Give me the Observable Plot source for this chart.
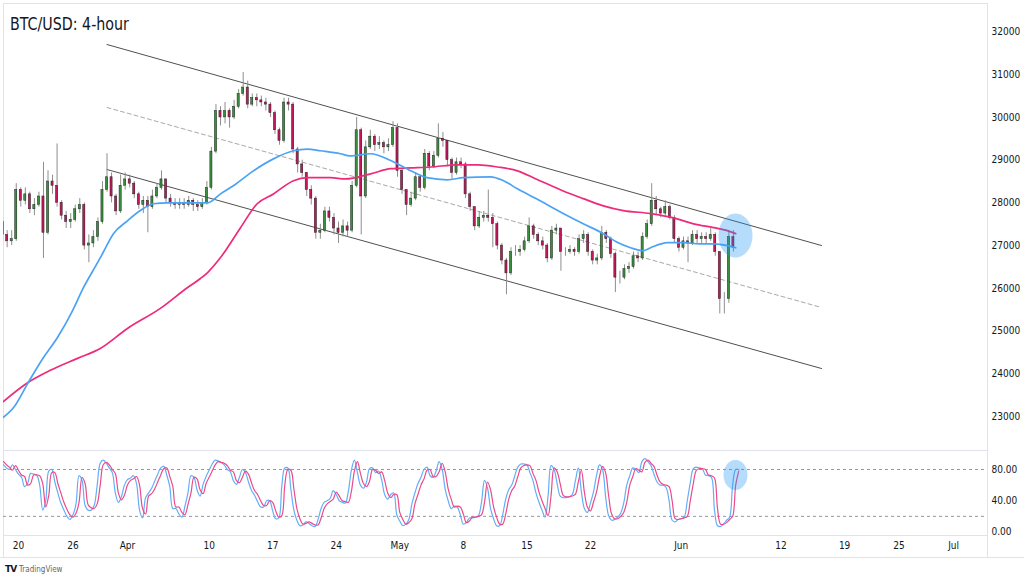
<!DOCTYPE html>
<html>
<head>
<meta charset="utf-8">
<script src="https://cdn.jsdelivr.net/npm/d3@7"></script>
<script src="https://cdn.jsdelivr.net/npm/@observablehq/plot@0.6"></script>
<style>
html,body{margin:0;padding:0;background:#fff;}
#wrap{position:relative;width:1024px;height:576px;overflow:hidden;background:#fff;
  font-family:"Liberation Sans Narrow","DejaVu Sans Condensed","Liberation Sans",sans-serif;}
#main{position:absolute;left:0;top:0;}
#osc{position:absolute;left:0;top:450px;}
#title{position:absolute;left:10px;top:13px;font-size:18px;color:#131722;white-space:nowrap;transform:scaleX(0.88);transform-origin:0 0;}
#logo{position:absolute;left:5px;top:564px;font-size:8px;color:#666;white-space:nowrap;}
#logo b{color:#131722;font-size:9px;font-family:"DejaVu Sans",sans-serif;font-weight:900;letter-spacing:-1px;margin-right:3px;}
.hline{position:absolute;left:0;width:1024px;height:1px;background:#e0e3eb;}
.vline{position:absolute;width:1px;background:#e0e3eb;}
</style>
</head>
<body>
<div id="wrap">
  <div id="main"></div>
  <div id="osc"></div>
  <div class="vline" style="left:3px;top:535px;height:22px"></div>
  <div class="vline" style="left:987px;top:535px;height:22px"></div>
  <div class="hline" style="top:557px"></div>
  <div id="title">BTC/USD: 4-hour</div>
  <div id="logo"><b>TV</b>TradingView</div>
</div>
<script>
// ---------- DATA ----------
const candleStart = "2023-03-18T00:00:00Z";
const candleHours = 12;
const firstOpen = 27550;
const closes = [
27250,27100,27150,28300,28050,28200,27850,27950,28150,27300,
28500,28400,28000,27700,27550,27600,27850,27950,27000,27050,
27200,27550,28300,28600,28150,27800,28400,28550,28450,28200,
27950,28050,27900,28150,28350,28550,28100,28000,27950,28000,
27950,28050,27950,27900,28000,28350,29200,30150,30000,30150,
30000,30250,30550,30700,30300,30450,30400,30350,30300,30100,
29700,29450,30350,30300,29250,28900,28700,28300,28100,27300,
27350,27800,27650,27400,27300,27450,27350,28400,29700,28150,
29300,29550,29350,29400,29300,29350,29750,28750,28300,27950,
28100,28600,28350,29150,28850,29100,29500,29450,29000,28700,
28950,28900,28200,27900,27450,27650,27700,27650,27500,27000,
26650,26350,26850,26850,26900,27100,27450,27250,27100,27000,
26700,27350,27400,26850,26850,26900,26850,27150,27250,26850,
26650,26700,27300,27150,26800,26250,26250,26450,26500,26750,
26700,27200,27500,28050,27850,27750,27900,27650,27150,26950,
27100,27050,27250,27150,27200,27150,27250,26850,25750,25750,
27200,26950];
const highs = [
27650,27350,27350,28450,28350,28350,28250,28100,28250,28950,
28750,28650,29380,28050,27800,27750,27950,28100,28000,27250,
27350,27650,28500,29150,28700,28200,28650,28700,28650,28500,
28250,28150,28150,28300,28450,28750,28550,28200,28100,28100,
28100,28150,28100,28050,28100,28500,29300,30300,30250,30350,
30200,30400,30650,31050,30850,30550,30550,30500,30450,30350,
30150,29750,30450,30450,30350,29300,29000,28700,28400,28150,
27500,27900,27900,27750,27550,27600,27550,28500,30000,29750,
29450,29700,29600,29550,29450,29500,29900,29850,28800,28300,
28250,28700,28650,29250,29200,29200,29850,29650,29450,29050,
29050,29050,28950,28250,27900,27800,27800,28300,27750,27550,
27050,26700,26950,27000,27000,27200,27650,27500,27300,27200,
27050,27450,27500,27400,26950,27000,26950,27250,27350,27300,
26900,26800,27450,27350,27200,26850,26400,26550,26600,26850,
26850,27300,27600,28450,28150,27900,28050,27950,27700,27200,
27200,27200,27350,27350,27300,27300,27400,27300,26850,25900,
27350,27350];
const lows = [
27100,26950,27000,27100,27900,27950,27750,27700,27900,26700,
27250,28200,27900,27600,27400,27400,27550,27750,26900,26600,
26950,27100,27500,28250,28000,27700,27750,28300,28350,28100,
27850,27750,27300,27850,28100,28300,28000,27900,27850,27850,
27850,27900,27800,27800,27850,27950,28300,29150,29800,29850,
29750,29950,30200,30500,30200,30250,30250,30250,30150,30000,
29600,29350,29400,30150,29150,28700,28600,28150,27950,27150,
27150,27300,27550,27250,27050,27200,27200,27300,28350,27250,
28100,29250,29200,29250,29150,29200,29300,28600,28200,27700,
27900,28050,28250,28300,28750,28800,29050,29300,28850,28550,
28650,28800,28100,27800,27350,27400,27550,27550,26950,26900,
26550,25850,26300,26750,26750,26850,27050,27150,27000,26900,
26600,26650,27250,26400,26750,26800,26750,26800,27050,26750,
26550,26550,26650,27050,26700,25900,26100,26200,26350,26450,
26600,26650,27150,27450,27700,27650,27700,27600,27050,26850,
26900,26600,27000,27050,27050,27050,27100,26750,25400,25400,
25650,26850];

const fastDates = ["2023-03-18T08:00Z","2023-03-19T11:00Z","2023-03-21T02:00Z","2023-03-22T18:00Z","2023-03-24T07:00Z","2023-03-25T23:00Z","2023-03-27T04:00Z","2023-03-28T17:00Z","2023-03-29T06:00Z","2023-03-30T11:00Z","2023-04-01T00:00Z","2023-04-02T10:00Z","2023-04-03T21:00Z","2023-04-05T10:00Z","2023-04-07T15:00Z","2023-04-09T20:00Z","2023-04-11T06:00Z","2023-04-12T16:00Z","2023-04-14T21:00Z","2023-04-17T02:00Z","2023-04-19T07:00Z","2023-04-20T20:00Z","2023-04-22T06:00Z","2023-04-24T11:00Z","2023-04-25T12:00Z","2023-04-27T19:00Z","2023-04-30T00:00Z","2023-05-02T05:00Z","2023-05-04T00:00Z","2023-05-06T06:00Z","2023-05-08T00:00Z","2023-05-11T00:00Z","2023-05-12T10:00Z","2023-05-13T23:00Z","2023-05-16T00:00Z","2023-05-19T00:00Z","2023-05-21T05:00Z","2023-05-23T10:00Z","2023-05-25T00:00Z","2023-05-26T10:00Z","2023-05-27T20:00Z","2023-05-28T15:00Z","2023-05-30T12:00Z","2023-06-01T06:00Z","2023-06-03T00:00Z","2023-06-04T14:00Z","2023-06-06T02:00Z","2023-06-07T00:00Z"];
const fastValues = [22980,23210,23800,24380,24850,25480,26020,26600,26810,27280,27580,27820,27980,28000,28000,28000,28210,28400,28750,29030,29220,29260,29220,29150,29100,29150,28990,28750,28590,28540,28590,28610,28520,28330,28100,27750,27510,27280,27070,26950,26880,26950,27070,27070,27040,27040,27000,26950];

const slowDates = ["2023-03-18T08:00Z","2023-03-21T02:00Z","2023-03-23T12:00Z","2023-03-26T12:00Z","2023-03-29T00:00Z","2023-04-01T00:00Z","2023-04-04T15:00Z","2023-04-07T15:00Z","2023-04-09T01:00Z","2023-04-09T20:00Z","2023-04-11T06:00Z","2023-04-13T11:00Z","2023-04-15T07:00Z","2023-04-17T02:00Z","2023-04-19T07:00Z","2023-04-20T20:00Z","2023-04-23T09:00Z","2023-04-25T00:00Z","2023-04-27T19:00Z","2023-04-30T00:00Z","2023-05-02T05:00Z","2023-05-04T10:00Z","2023-05-07T09:00Z","2023-05-09T14:00Z","2023-05-11T19:00Z","2023-05-13T23:00Z","2023-05-16T00:00Z","2023-05-19T00:00Z","2023-05-21T05:00Z","2023-05-23T10:00Z","2023-05-25T15:00Z","2023-05-28T15:00Z","2023-05-31T04:00Z","2023-06-02T09:00Z","2023-06-04T14:00Z","2023-06-06T02:00Z","2023-06-07T00:00Z"];
const slowValues = [23350,23800,24080,24360,24590,25060,25530,26020,26230,26370,26720,27420,27980,28210,28520,28590,28590,28560,28680,28800,28820,28840,28890,28890,28840,28750,28560,28280,28100,27930,27820,27750,27650,27510,27420,27350,27280];

const channelDates = ["2023-03-29T18:00Z","2023-06-16T11:00Z"];
const channelUpper = [31707, 27002];
const channelMiddle = [30233, 25551];
const channelLower = [28781, 24123];

const stochStart = "2023-03-18T00:00:00Z";
const stochHours = 8;
const stochK = [
88,86,82,80,86,80,74,70,58,62, 75,74,73,60,28,40,78,80,64,50,
37,28,20,16,22,36,72,66,34,28, 28,34,60,88,92,88,82,76,50,38,
45,60,67,69,72,62,28,18,44,50, 56,65,74,82,84,73,58,30,30,23,
19,33,50,72,70,54,46,61,71,79, 87,92,91,89,86,80,77,66,61,70,
80,76,64,53,47,39,32,32,40,40, 27,17,18,58,82,82,55,28,15,8,
9,13,11,8,7,16,30,38,40,43, 53,48,40,38,37,52,79,92,76,60,
56,64,81,82,76,78,67,48,42,48, 50,22,14,8,10,16,36,50,62,70,
80,83,72,70,78,90,80,55,40,30, 33,32,22,10,12,18,18,19,21,38,
66,56,30,17,8,8,22,42,54,60, 72,83,87,87,86,76,66,50,38,28,
19,46,85,80,62,46,44,44,45,48, 65,82,52,30,25,37,51,72,86,80,
46,21,15,16,19,24,37,60,72,82, 80,76,90,94,90,85,74,64,60,60,
57,40,15,13,16,17,19,40,63,81, 83,82,81,73,72,70,28,8,7,10,
15,19,60,80,80];
const stochD = [
90,90,86,83,79,85,79,73,71,60, 62,73,73,72,62,32,47,76,76,62,
50,38,29,22,19,24,38,70,62,35, 31,30,36,60,86,89,86,80,75,50,
41,47,60,66,68,71,60,30,23,46, 49,55,64,73,81,82,71,58,32,32,
25,22,35,50,70,68,54,49,62,70, 78,86,90,89,88,85,79,77,66,63,
70,78,74,63,53,48,40,34,34,40, 38,27,19,21,60,80,79,55,30,17,
10,11,13,11,9,9,18,30,36,39, 42,51,46,40,39,38,52,78,90,75,
62,58,65,80,79,75,77,66,50,44, 48,48,25,16,10,12,17,36,48,60,
68,79,80,71,71,77,88,77,55,42, 32,33,32,23,12,14,19,19,20,22,
38,64,54,32,19,10,10,23,42,53, 59,71,82,85,86,85,75,66,51,40,
30,21,47,82,77,62,47,45,45,46, 48,64,79,51,32,27,38,51,71,84,
76,47,23,17,17,20,25,38,60,71, 81,79,77,89,92,88,84,73,64,61,
60,58,40,17,16,17,18,20,40,62, 79,81,81,80,73,72,69,30,10,10,
12,16,20,60,78];

const priceTicks = [23000,24000,25000,26000,27000,28000,29000,30000,31000,32000];
const oscTicks = [0,40,80];
const oscLevels = [20,80];
const timeTicks = ["2023-03-20","2023-03-26","2023-04-01","2023-04-10","2023-04-17","2023-04-24","2023-05-01","2023-05-08","2023-05-15","2023-05-22","2023-06-01","2023-06-12","2023-06-19","2023-06-25","2023-07-01"];
const timeLabels = ["20","26","Apr","10","17","24","May","8","15","22","Jun","12","19","25","Jul"];
const highlightDate = "2023-06-06T23:30Z";
const highlightPrice = 27236;
const highlightOsc = 73;

// ---------- BUILD ----------
const H = 3600e3;
const t0 = new Date(candleStart).getTime();
const candles = closes.map((c, i) => {
  const s = t0 + i * candleHours * H;
  const o = i ? closes[i - 1] : firstOpen;
  return {t: new Date(s + candleHours / 2 * H), t1: new Date(s + 3.2 * H), t2: new Date(s + 8.8 * H),
          o, c, h: highs[i], l: lows[i], lo: Math.min(o, c), hi: Math.max(o, c)};
});
const up = candles.filter(d => d.c >= d.o);
const down = candles.filter(d => d.c < d.o);
const fast = fastDates.map((d, i) => ({t: new Date(d), v: fastValues[i]}));
const slow = slowDates.map((d, i) => ({t: new Date(d), v: slowValues[i]}));
const chan = (vals) => channelDates.map((d, i) => ({t: new Date(d), v: vals[i]}));
const s0 = new Date(stochStart).getTime();
const kLine = stochK.map((v, j) => ({t: new Date(s0 + j * stochHours * H), v}));
const dLine = stochD.map((v, j) => ({t: new Date(s0 + j * stochHours * H), v}));
const tickDates = timeTicks.map(d => new Date(d + "T00:00:00Z"));
const labelOf = new Map(tickDates.map((d, i) => [+d, timeLabels[i]]));

const ellipse = (rx, ry) => ({draw(ctx) {
  const n = 60;
  for (let k = 0; k <= n; k++) {
    const a = 2 * Math.PI * k / n;
    const px = rx * Math.cos(a), py = ry * Math.sin(a);
    if (k) ctx.lineTo(px, py); else ctx.moveTo(px, py);
  }
  ctx.closePath();
}});

const FONT = '"Liberation Sans Narrow","DejaVu Sans Condensed","Liberation Sans",sans-serif';
const xDomain = [new Date("2023-03-18T08:20:00Z"), new Date("2023-07-04T17:45:00Z")];
const gridStroke = "#e0e3eb";

const main = Plot.plot({
  width: 1024, height: 450,
  marginLeft: 3, marginRight: 37, marginTop: 3, marginBottom: 0,
  x: {type: "utc", domain: xDomain, axis: null},
  y: {domain: [22204, 32667], axis: null},
  style: {fontFamily: FONT, fontSize: "10px", background: "transparent", overflow: "visible"},
  marks: [
    Plot.frame({stroke: gridStroke}),
    Plot.line(chan(channelMiddle), {x: "t", y: "v", stroke: "#a9a9a9", strokeWidth: 1, strokeDasharray: "4,3"}),
    Plot.line(chan(channelUpper), {x: "t", y: "v", stroke: "#505050", strokeWidth: 1}),
    Plot.line(chan(channelLower), {x: "t", y: "v", stroke: "#505050", strokeWidth: 1}),
    Plot.ruleX(candles, {x: "t", y1: "l", y2: "h", stroke: "#8e8e8e", strokeWidth: 1, clip: true}),
    Plot.rect(up, {x1: "t1", x2: "t2", y1: "lo", y2: "hi", fill: "#3a8f3e", stroke: "#1c2a1c", strokeWidth: 0.5, clip: true}),
    Plot.rect(down, {x1: "t1", x2: "t2", y1: "lo", y2: "hi", fill: "#c2185b", stroke: "#2a1a20", strokeWidth: 0.5, clip: true}),
    Plot.line(slow, {x: "t", y: "v", stroke: "#ee2a7b", strokeWidth: 1.7, curve: "monotone-x", clip: true}),
    Plot.line(fast, {x: "t", y: "v", stroke: "#4aa3f5", strokeWidth: 1.7, curve: "monotone-x", clip: true}),
    Plot.dot([{t: new Date(highlightDate), v: highlightPrice}], {x: "t", y: "v", r: 10, symbol: ellipse(17, 22), fill: "#2196f3", fillOpacity: 0.33, stroke: "none"}),
    Plot.axisY({ticks: priceTicks, anchor: "right", label: null, tickSize: 0, tickPadding: 4, tickFormat: d => String(d), fill: "#131722", fontSize: 10})
  ]
});
document.getElementById("main").appendChild(main);

const osc = Plot.plot({
  width: 1024, height: 107,
  marginLeft: 3, marginRight: 37, marginTop: 0, marginBottom: 22,
  x: {type: "utc", domain: xDomain, axis: null},
  y: {domain: [-4.5, 104.3], axis: null},
  style: {fontFamily: FONT, fontSize: "10px", background: "transparent", overflow: "visible"},
  marks: [
    Plot.frame({stroke: gridStroke}),
    Plot.ruleY(oscLevels, {stroke: "#9598a1", strokeWidth: 1, strokeDasharray: "3,3"}),
    Plot.line(kLine, {x: "t", y: "v", stroke: "#64aef7", strokeWidth: 1.2, curve: "catmull-rom", clip: true}),
    Plot.line(dLine, {x: "t", y: "v", stroke: "#ec4a8a", strokeWidth: 1.2, curve: "catmull-rom", clip: true}),
    Plot.dot([{t: new Date(highlightDate), v: highlightOsc}], {x: "t", y: "v", r: 8, symbol: ellipse(12, 15), fill: "#2196f3", fillOpacity: 0.33, stroke: "none"}),
    Plot.axisY({ticks: oscTicks, anchor: "right", label: null, tickSize: 0, tickPadding: 4, tickFormat: d => d.toFixed(2), fill: "#131722", fontSize: 10}),
    Plot.axisX({ticks: tickDates, label: null, tickSize: 0, tickPadding: 6, tickFormat: d => labelOf.get(+d), fill: "#131722", fontSize: 10})
  ]
});
document.getElementById("osc").appendChild(osc);
</script>
</body>
</html>
